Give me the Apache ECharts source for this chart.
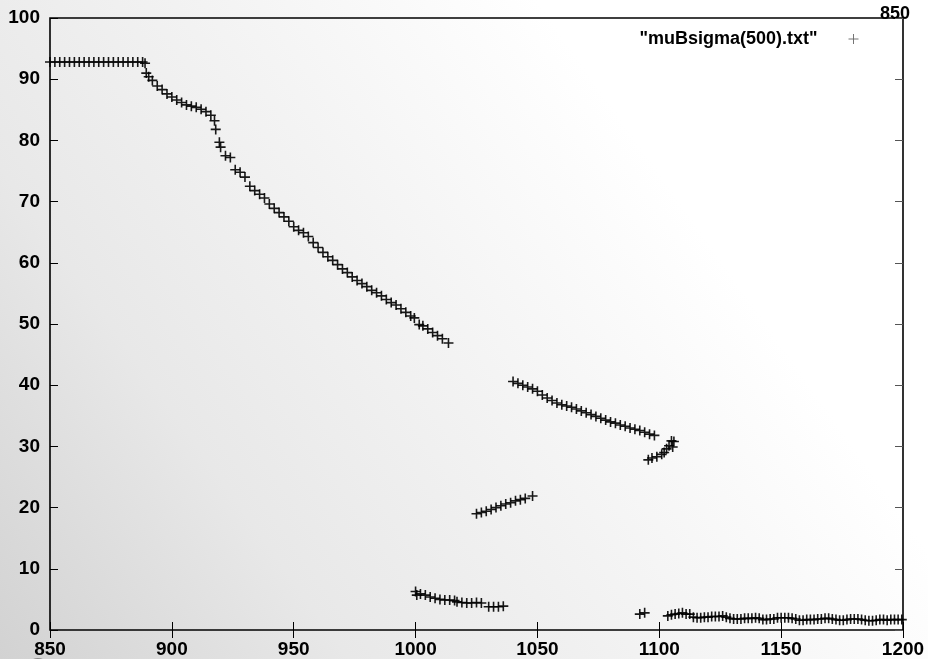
<!DOCTYPE html>
<html>
<head>
<meta charset="utf-8">
<script src="https://cdn.jsdelivr.net/npm/echarts@6/dist/echarts.min.js"></script>
<style>
	html,body{margin:0;padding:0;}
	#chart{width:928px;height:659px;}
</style>
</head>
<body>
<div id="chart"></div>
<script>
	// flat part at the top
	var xFlat = [850,852,854,856,858,860,862,864,866,868,870,872,874,876,878,880,882,884,886,888,889];
	var yFlat = [92.8,92.8,92.8,92.8,92.8,92.8,92.8,92.8,92.8,92.8,92.8,92.8,92.8,92.8,92.8,92.8,92.8,92.8,92.8,92.8,92.6];
	// long descent down to 1000
	var xFall = [889.5,890.5,892,894,896,898,900,902,904,906,908,910,912,914,916,917.5,918,919.5,920,922,924,926,928,930,932,934,936,938,940,942,944,946,948,950,952,954,956,958,960,962,964,966,968,970,972,974,976,978,980,982,984,986,988,990,992,994,996,998,999.5];
	var yFall = [91.0,90.4,89.8,88.9,88.3,87.6,87.1,86.6,86.2,85.8,85.6,85.4,85.1,84.7,84.1,83.2,81.8,79.7,78.9,77.5,77.2,75.2,74.8,74.0,72.5,71.8,71.2,70.6,69.6,68.9,68.2,67.5,66.8,65.9,65.3,64.9,64.3,63.3,62.5,61.7,61.0,60.4,59.7,59.0,58.4,57.7,57.1,56.6,56.1,55.5,55.1,54.6,54.0,53.5,53.1,52.5,51.9,51.3,51.0];
	var xTail = [1001.5,1003,1005,1007,1009,1011,1013.5];
	var yTail = [49.9,49.7,49.2,48.6,48.1,47.6,46.9];
	// low branch after 1000
	var xLow = [1000,1000.5,1002,1004,1006,1008,1010,1012,1014,1016,1017,1019,1021,1023,1025,1027,1030,1032,1034,1036];
	var yLow = [6.3,5.7,5.9,5.7,5.4,5.2,5.0,4.9,4.9,4.8,4.6,4.5,4.4,4.4,4.5,4.4,3.8,3.8,3.8,3.9];
	var xRise = [1025,1027,1029,1031,1033,1035,1037,1039,1041,1043,1045,1048];
	var yRise = [19.0,19.2,19.4,19.7,20.0,20.3,20.6,20.8,21.1,21.3,21.5,21.9];
	var xUpper = [1040,1042,1044,1046,1048,1050,1052,1054,1056,1058,1060,1062,1064,1066,1068,1070,1072,1074,1076,1078,1080,1082,1084,1086,1088,1090,1092,1094,1096,1098];
	var yUpper = [40.6,40.3,40.0,39.7,39.4,39.0,38.4,37.9,37.5,37.1,36.8,36.6,36.4,36.1,35.8,35.5,35.2,34.9,34.6,34.3,34.0,33.8,33.5,33.3,33.0,32.8,32.6,32.3,32.0,31.8];
	var xHook = [1095.5,1097,1099,1101,1102,1103,1104,1105,1105.5,1106];
	var yHook = [27.8,28.1,28.3,28.7,29.0,29.6,30.1,30.9,29.9,30.8];
	var xLone = [1092,1094];
	var yLone = [2.6,2.8];
	var xEnd = [1103.5,1105,1106.5,1108,1109.5,1111,1112.5,1114,1115.5,1117,1118.5,1120,1121.5,1123,1124.5,1126,1127.5,1129,1130.5,1132,1133.5,1135,1136.5,1138,1139.5,1141,1142.5,1144,1145.5,1147,1148.5,1150,1151.5,1153,1154.5,1156,1157.5,1159,1160.5,1162,1163.5,1165,1166.5,1168,1169.5,1171,1172.5,1174,1175.5,1177,1178.5,1180,1181.5,1183,1184.5,1186,1187.5,1189,1190.5,1192,1193.5,1195,1196.5,1198,1199.5];
	var yEnd = [2.3,2.5,2.6,2.7,2.8,2.6,2.6,2.1,2.0,2.0,2.1,2.1,2.2,2.2,2.2,2.3,2.1,1.9,1.8,1.8,1.8,1.9,1.9,1.9,2.0,1.9,1.7,1.7,1.8,1.8,2.0,2.0,2.0,2.0,1.9,1.8,1.6,1.6,1.7,1.7,1.7,1.8,1.8,1.9,1.9,1.8,1.7,1.6,1.6,1.7,1.8,1.8,1.8,1.7,1.6,1.5,1.5,1.6,1.7,1.7,1.6,1.7,1.7,1.7,1.7];
	var xTicks = [850,900,950,1000,1050,1100,1150,1200];
	var yTicks = [0,10,20,30,40,50,60,70,80,90,100];
	var seriesName = '"muBsigma(500).txt"';

	var segments = [[xFlat,yFlat],[xFall,yFall],[xTail,yTail],[xLow,yLow],[xRise,yRise],[xUpper,yUpper],[xHook,yHook],[xLone,yLone],[xEnd,yEnd]];
	var points = [];
	segments.forEach(function(s){
		for(var i=0;i<s[0].length;i++){
			points.push([s[0][i],s[1][i]]);
		}
	});

	var plus = 'path://M0,5L10,5M5,0L5,10';
	var labelFont = {color:'#000',fontFamily:'Liberation Sans',fontWeight:'bold',fontSize:19};

	var myChart = echarts.init(document.getElementById('chart'));
	var option = {
		backgroundColor:{
			type:'linear',x:0,y:1,x2:1,y2:0,
			colorStops:[
				{offset:0,color:'#d2d2d2'},
				{offset:0.25,color:'#e8e8e8'},
				{offset:0.5,color:'#f4f4f4'},
				{offset:0.72,color:'#ffffff'},
				{offset:1,color:'#ffffff'}
			]
		},
		animation:false,
		grid:{left:50,right:25,top:18,bottom:29,show:true,borderColor:'#000',borderWidth:1.6,backgroundColor:'transparent'},
		legend:{
			right:64,top:25,align:'right',
			itemWidth:62,itemHeight:10,
			icon:plus,
			itemStyle:{color:'transparent',borderColor:'#666',borderWidth:1},
			textStyle:{color:'#000',fontFamily:'Liberation Sans',fontWeight:'bold',fontSize:18},
			data:[seriesName]
		},
		xAxis:[{
			type:'value',min:850,max:1200,interval:50,position:'bottom',
			axisLine:{show:false},
			axisTick:{show:true,inside:true,length:8,lineStyle:{color:'#000',width:1}},
			axisLabel:Object.assign({margin:10,formatter:function(v){return xTicks.indexOf(v)>=0?String(v):'';}},labelFont),
			splitLine:{show:false}
		},{
			type:'value',min:850,max:1200,interval:50,position:'top',
			axisLine:{show:false},
			axisTick:{show:true,inside:true,length:8,lineStyle:{color:'#000',width:1}},
			axisLabel:{show:false},splitLine:{show:false}
		}],
		yAxis:[{
			type:'value',min:0,max:100,interval:10,position:'left',
			axisLine:{show:false},
			axisTick:{show:true,inside:true,length:8,lineStyle:{color:'#000',width:1}},
			axisLabel:Object.assign({margin:10,formatter:function(v){return yTicks.indexOf(v)>=0?String(v):'';}},labelFont),
			splitLine:{show:false}
		},{
			type:'value',min:0,max:100,interval:10,position:'right',
			axisLine:{show:false},
			axisTick:{show:true,inside:true,length:8,lineStyle:{color:'#555',width:1}},
			axisLabel:{show:false},splitLine:{show:false}
		}],
		graphic:[
			{type:'text',left:880,top:5,style:{text:'850',fill:'#000',font:'bold 18px "Liberation Sans"'}},
			{type:'circle',shape:{cx:38,cy:670,r:12},style:{fill:'#8a8a8a'}}
		],
		series:[{
			name:seriesName,
			type:'scatter',
			symbol:plus,
			symbolSize:10,
			itemStyle:{color:'transparent',borderColor:'#000',borderWidth:1.6,opacity:0.9},
			data:points
		}]
	};
	myChart.setOption(option);
</script>
</body>
</html>
